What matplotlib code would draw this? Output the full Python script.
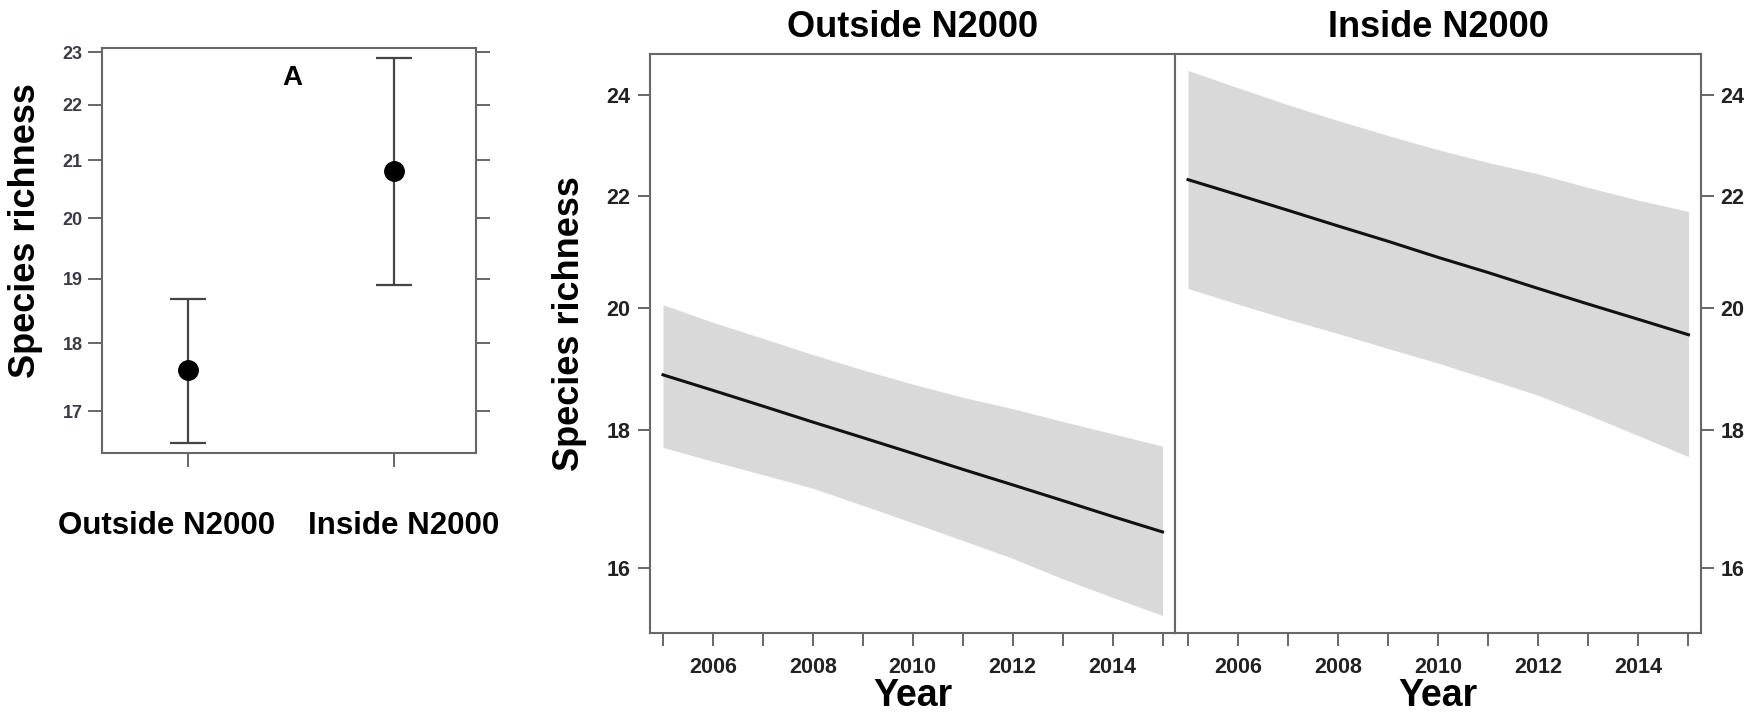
import matplotlib
matplotlib.use("Agg")
import matplotlib.pyplot as plt
import matplotlib.transforms as mtransforms
import numpy as np
from matplotlib.ticker import FixedLocator, NullLocator, FixedFormatter

plt.rcParams['font.family'] = ['Liberation Sans', 'DejaVu Sans']
plt.rcParams['font.weight'] = 'bold'

# panel A: means with intervals
groups = ['Outside N2000', 'Inside N2000']
means = [17.60, 20.80]
lower = [16.55, 18.90]
upper = [18.68, 22.88]

# yearly trends
years = np.arange(2005, 2016)
out_fit = [18.88, 18.63, 18.38, 18.13, 17.89, 17.65, 17.41, 17.18, 16.95, 16.72, 16.50]
out_lo = [17.74, 17.53, 17.33, 17.13, 16.88, 16.63, 16.38, 16.13, 15.85, 15.60, 15.36]
out_hi = [20.05, 19.75, 19.48, 19.21, 18.96, 18.73, 18.52, 18.34, 18.14, 17.95, 17.76]
in_fit = [22.32, 22.03, 21.74, 21.45, 21.17, 20.88, 20.61, 20.33, 20.06, 19.80, 19.54]
in_lo = [20.33, 20.06, 19.80, 19.56, 19.31, 19.07, 18.81, 18.55, 18.24, 17.92, 17.60]
in_hi = [24.51, 24.15, 23.80, 23.48, 23.18, 22.90, 22.65, 22.43, 22.17, 21.93, 21.72]

frame = '#666666'
txt = '#222222'

fig = plt.figure(figsize=(17.58, 7.13), dpi=100)

# ---- panel A
ax = fig.add_axes([0.058, 0.3647, 0.2128, 0.568])
x = np.arange(1, len(groups) + 1)
m = np.array(means)
yerr = [m - np.array(lower), np.array(upper) - m]
ax.errorbar(x, m, yerr=yerr, fmt='o', color='black', ecolor='#444444',
            elinewidth=1.6, capsize=13, capthick=1.6, markersize=14)
ax.set_yscale('log')
ax.set_ylim(16.41, 23.08)
ax.set_xlim(0.58, 2.40)
ax.yaxis.set_major_locator(FixedLocator([17, 18, 19, 20, 21, 22, 23]))
ax.yaxis.set_major_formatter(FixedFormatter(['17', '18', '19', '20', '21', '22', '23']))
ax.yaxis.set_minor_locator(NullLocator())
ax.set_xticks(x)
ax.set_xticklabels(groups, fontsize=22.5, fontweight='bold', color='black')
ax.tick_params(axis='x', length=10, width=1.4, color=frame, pad=32)
ax.tick_params(axis='y', length=10, width=1.4, color=frame, labelsize=13,
               labelcolor='#3a3a4a', right=True, pad=4)
# nudge the two category labels apart like the original
for lab, dx in zip(ax.get_xticklabels(), [-22, 10]):
    lab.set_transform(lab.get_transform() +
                      mtransforms.ScaledTranslation(dx / 100, 0, fig.dpi_scale_trans))
for s in ax.spines.values():
    s.set_color(frame)
    s.set_linewidth(1.5)
ax.set_ylabel('Species richness', fontsize=26, fontweight='bold')
ax.yaxis.set_label_coords(-0.158, 0.548)
fig.text(292 / 1758, 1 - 78 / 713, 'A', fontsize=20, fontweight='bold',
         ha='center', va='center')

# ---- trend panels
ax1 = fig.add_axes([650 / 1758, 0.1122, (1175 - 650) / 1758, 0.8121])
ax2 = fig.add_axes([1175 / 1758, 0.1122, (1701 - 1175) / 1758, 0.8121])

panels = [(ax1, 'Outside N2000', out_fit, out_lo, out_hi),
          (ax2, 'Inside N2000', in_fit, in_lo, in_hi)]
for a, title, fit, lo, hi in panels:
    a.fill_between(years, lo, hi, color='#d9d9d9', linewidth=0)
    a.plot(years, fit, color='#111111', linewidth=2.2)
    a.set_yscale('log')
    a.set_ylim(15.13, 24.86)
    a.set_xlim(2004.74, 2015.25)
    a.yaxis.set_major_locator(FixedLocator([16, 18, 20, 22, 24]))
    a.yaxis.set_major_formatter(FixedFormatter(['16', '18', '20', '22', '24']))
    a.yaxis.set_minor_locator(NullLocator())
    a.set_xticks(years)
    a.set_xticklabels([str(y) if y % 2 == 0 else '' for y in years])
    a.tick_params(axis='x', length=9, width=1.4, color=frame, labelsize=15.5,
                  labelcolor=txt, pad=8)
    a.tick_params(axis='y', length=9, width=1.4, color=frame, labelsize=15.5,
                  labelcolor=txt, pad=5)
    for s in a.spines.values():
        s.set_color(frame)
        s.set_linewidth(1.5)
    a.set_title(title, fontsize=26, fontweight='bold', pad=12)
    a.set_xlabel('Year', fontsize=27, fontweight='bold', labelpad=0)

ax1.set_ylabel('Species richness', fontsize=26, fontweight='bold')
ax1.yaxis.set_label_coords(-0.12, 0.535)
ax2.yaxis.tick_right()
ax2.tick_params(axis='y', left=False, right=True)

fig.savefig('out.png', dpi=100)
